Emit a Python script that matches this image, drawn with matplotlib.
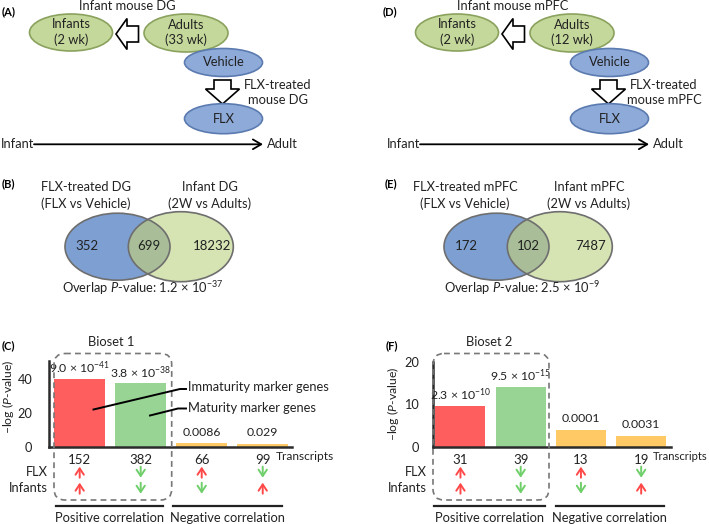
import numpy as np
import matplotlib
matplotlib.use("Agg")
import matplotlib.pyplot as plt
import matplotlib.transforms as mtransforms
from matplotlib.patches import Ellipse, Polygon, FancyBboxPatch

plt.rcParams['font.family'] = ['Lato', 'DejaVu Sans']
plt.rcParams['mathtext.fontset'] = 'custom'
plt.rcParams['mathtext.rm'] = 'Lato'
plt.rcParams['mathtext.it'] = 'Lato:italic'
plt.rcParams['mathtext.bf'] = 'Lato:bold'

# ---- data ----
groups = ["Positive correlation", "Negative correlation"]
bioset1_vals = [40.05, 37.42, 2.07, 1.54]          # -log10(P)
bioset1_plabels = ["9.0 \u00d7 10$^{-41}$", "3.8 \u00d7 10$^{-38}$", "0.0086", "0.029"]
bioset1_counts = ["152", "382", "66", "99"]
bioset2_vals = [9.64, 14.02, 4.0, 2.51]
bioset2_plabels = ["2.3 \u00d7 10$^{-10}$", "9.5 \u00d7 10$^{-15}$", "0.0001", "0.0031"]
bioset2_counts = ["31", "39", "13", "19"]
flx_dir = ["up", "down", "up", "down"]
infant_dir = ["up", "down", "down", "up"]

venn_dg = ["352", "699", "18232"]
venn_mpfc = ["172", "102", "7487"]

RED = "#ff5e5e"
GREEN = "#98d594"
ORANGE = "#ffc966"
bar_colors = [RED, GREEN, ORANGE, ORANGE]
ARR_RED = "#ff4848"
ARR_GREEN = "#6fcf6a"

G_FILL, G_EDGE = "#c5d89b", "#8aa25e"
B_FILL, B_EDGE = "#8eaad9", "#5b7bb0"
TXT = "#222222"

W, H = 709, 524
fig = plt.figure(figsize=(W / 100, H / 100), dpi=100)

# overlay in pixel coordinates for the schematic parts
ov = fig.add_axes([0, 0, 1, 1], zorder=5)
ov.set_xlim(0, W)
ov.set_ylim(H, 0)
ov.axis("off")
ov.patch.set_alpha(0)

FS = 9.3


def t(x, y, s, **kw):
    kw.setdefault("ha", "center")
    kw.setdefault("va", "center")
    kw.setdefault("fontsize", FS)
    kw.setdefault("color", TXT)
    ov.text(x, y, s, **kw)


def oval(cx, cy, w, h, fc, ec, lines):
    ov.add_patch(Ellipse((cx, cy), w, h, fc=fc, ec=ec, lw=1.2))
    if len(lines) == 1:
        t(cx, cy, lines[0])
    else:
        t(cx, cy - 8, lines[0])
        t(cx, cy + 7, lines[1])


def left_arrow(x0, yc):
    pts = [(x0, yc), (x0 + 11, yc - 15.5), (x0 + 11, yc - 8), (x0 + 22.5, yc - 8),
           (x0 + 22.5, yc + 8), (x0 + 11, yc + 8), (x0 + 11, yc + 15.5)]
    ov.add_patch(Polygon(pts, closed=True, fc="white", ec="black", lw=1.2))


def down_arrow(xc, y0):
    pts = [(xc - 8.5, y0), (xc + 8.5, y0), (xc + 8.5, y0 + 9), (xc + 17, y0 + 9),
           (xc, y0 + 24), (xc - 17, y0 + 9), (xc - 8.5, y0 + 9)]
    ov.add_patch(Polygon(pts, closed=True, fc="white", ec="black", lw=1.2))


def schematic(dx, adult_age, region, lab, labx):
    t(labx, 12, lab, ha="left", fontsize=8, fontweight="bold", color="black")
    t(dx + 127, 6, "Infant mouse " + region)
    oval(dx + 71, 32.5, 83, 37, G_FILL, G_EDGE, ["Infants", "(2 wk)"])
    left_arrow(dx + 116, 34)
    oval(dx + 186, 33, 84, 38, G_FILL, G_EDGE, ["Adults", "(%s wk)" % adult_age])
    oval(dx + 223.5, 62.5, 78, 28, B_FILL, B_EDGE, ["Vehicle"])
    down_arrow(dx + 222.5, 80)
    t(dx + 278, 85, "FLX-treated")
    t(dx + 278, 100, "mouse " + region)
    oval(dx + 223.5, 118.7, 78, 30, B_FILL, B_EDGE, ["FLX"])
    ov.annotate("", xy=(dx + 263, 144.3), xytext=(dx + 34, 144.3),
                arrowprops=dict(arrowstyle="->,head_length=0.6,head_width=0.35",
                                lw=1.3, color="black", shrinkA=0, shrinkB=0))
    t(dx + 0.5, 144.3, "Infant", ha="left")
    t(dx + 266.5, 144.3, "Adult", ha="left")


def venn(dx, nums, region, pval, lab, labx):
    t(labx, 183.5, lab, ha="left", fontsize=8, fontweight="bold", color="black")
    t(dx + 86, 186.7, "FLX-treated " + region)
    t(dx + 86, 203.3, "(FLX vs Vehicle)")
    t(dx + 210, 186.7, "Infant " + region)
    t(dx + 210, 203.3, "(2W vs Adults)")
    blue = Ellipse((dx + 117.5, 246.7), 105, 67, fc="#7d9fd2", ec="none")
    green = Ellipse((dx + 180.8, 246.7), 105, 70, fc="#d6e4b4", ec="none")
    ov.add_patch(blue)
    ov.add_patch(green)
    both = Ellipse((dx + 180.8, 246.7), 105, 70, fc="#a8bd98", ec="none")
    ov.add_patch(both)
    both.set_clip_path(blue)
    ov.add_patch(Ellipse((dx + 117.5, 246.7), 105, 67, fc="none", ec="#6e6e6e", lw=1.2))
    ov.add_patch(Ellipse((dx + 180.8, 246.7), 105, 70, fc="none", ec="#6e6e6e", lw=1.2))
    t(dx + 87, 246.5, nums[0], fontsize=9.5)
    t(dx + 149.3, 246.5, nums[1], fontsize=9.5)
    t(dx + 211.7, 246.5, nums[2], fontsize=9.5)
    t(dx + 142.7, 288.5, r"Overlap $\it{P}$-value: " + pval)


schematic(0, "33", "DG", "(A)", 2)
schematic(386, "12", "mPFC", "(D)", 383)
venn(0, venn_dg, "DG", "1.2 \u00d7 10$^{-37}$", "(B)", 2)
venn(379, venn_mpfc, "mPFC", "2.5 \u00d7 10$^{-9}$", "(E)", 385)


def under(ax, dy):
    base = mtransforms.blended_transform_factory(ax.transData, ax.transAxes)
    return mtransforms.offset_copy(base, fig=fig, x=0, y=-dy, units="dots")


def arrow_mark(ax, i, yc, d):
    col = ARR_RED if d == "up" else ARR_GREEN
    top, bot = yc - 5.5, yc + 5.5
    head, tail = (top, bot) if d == "up" else (bot, top)
    ax.annotate("", xy=(i, 0), xycoords=under(ax, head),
                xytext=(i, 0), textcoords=under(ax, tail),
                arrowprops=dict(arrowstyle="->,head_length=0.45,head_width=0.3",
                                lw=1.4, color=col, shrinkA=0, shrinkB=0,
                                mutation_scale=10), annotation_clip=False)


def bar_panel(box, vals, plabels, counts, ylim, yticks, xlim, lab_off):
    x0, x1, ytop, ybase = box
    ax = fig.add_axes([x0 / W, 1 - ybase / H, (x1 - x0) / W, (ybase - ytop) / H])
    ax.patch.set_alpha(0)
    xs = np.arange(len(vals))
    ax.bar(xs, vals, width=0.83, color=bar_colors, zorder=2)
    ax.set_xlim(*xlim)
    ax.set_ylim(*ylim)
    ax.set_yticks(yticks)
    ax.set_xticks([])
    ax.tick_params(axis="y", length=0, pad=lab_off, labelsize=9.2, labelcolor=TXT)
    for s in ["top", "right"]:
        ax.spines[s].set_visible(False)
    for s in ["left", "bottom"]:
        ax.spines[s].set_linewidth(1.8)
        ax.spines[s].set_color("#2b2b2b")
    for i, (v, pl) in enumerate(zip(vals, plabels)):
        ax.annotate(pl, xy=(i, v), xytext=(0, 8), textcoords="offset points",
                    ha="center", va="center", fontsize=8.8, color=TXT)
        ax.text(i, 0, counts[i], transform=under(ax, 13.5), ha="center",
                va="center", fontsize=9.5, color=TXT)
        arrow_mark(ax, i, 25.5, flx_dir[i])
        arrow_mark(ax, i, 41.5, infant_dir[i])
    return ax


axC = bar_panel((49, 291.7, 361, 446.7), bioset1_vals, bioset1_plabels, bioset1_counts,
                (0, 50.6), [0, 20, 40], (-0.503, 3.475), 12)
axF = bar_panel((433, 671.3, 361.7, 446.7), bioset2_vals, bioset2_plabels, bioset2_counts,
                (0, 20), [0, 10, 20], (-0.456, 3.50), 10)

ylab = "\u2013log (" + r"$\it{P}$" + "-value)"
t(8.5, 397, ylab, rotation=90, fontsize=8.8)
t(393, 404, ylab, rotation=90, fontsize=8.8)

# panel C / F annotations
for labx, lab, bios, bx0, bx1 in [(2, "(C)", "Bioset 1", 54, 171.7), (386, "(F)", "Bioset 2", 433, 549)]:
    t(labx, 346, lab, ha="left", fontsize=8, fontweight="bold", color="black")
    t((bx0 + bx1) / 2 - 2, 341.7, bios, fontsize=9.3)
    ov.add_patch(FancyBboxPatch((bx0, 353.5), bx1 - bx0, 146.5,
                                boxstyle="round,pad=0,rounding_size=11",
                                fc="none", ec="#777777", lw=1.2, ls=(0, (3.5, 2.5))))

t(276, 456, "Transcripts", ha="left", fontsize=8.6)
t(708, 456, "Transcripts", ha="right", fontsize=8.1)
for x in (47.7, 426.7):
    t(x, 472.3, "FLX", ha="right", fontsize=9.3)
    t(x, 488.3, "Infants", ha="right", fontsize=9.3)

for (a, b), (c, d) in [((56, 163.3), (173.3, 281.7)), ((434, 545), (555.7, 664))]:
    ov.plot([a, b], [505.7, 505.7], color="#222222", lw=1.6)
    ov.plot([c, d], [505.7, 505.7], color="#222222", lw=1.6)
    t((a + b) / 2, 518.5, groups[0], fontsize=9.3)
    t((c + d) / 2, 518.5, groups[1], fontsize=9.3)

# marker gene callouts
ov.plot([93.5, 180, 186], [409.5, 389, 389], color="black", lw=1.4)
ov.plot([150, 178, 186], [415.5, 408.5, 408.5], color="black", lw=1.4)
t(187.5, 387, "Immaturity marker genes", ha="left", fontsize=9.3)
t(187.5, 408.3, "Maturity marker genes", ha="left", fontsize=9.3)

fig.savefig("out.png", dpi=100, facecolor="white")
